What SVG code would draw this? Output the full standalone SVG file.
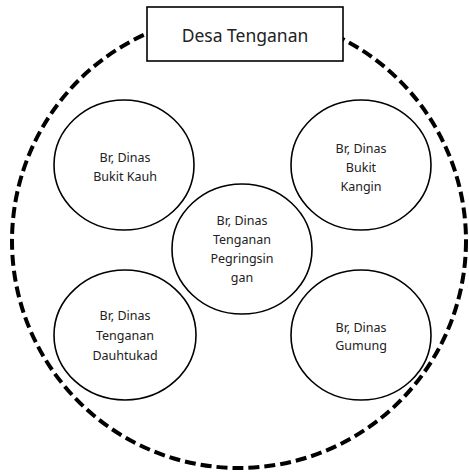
<svg xmlns="http://www.w3.org/2000/svg" width="469" height="472" viewBox="0 0 469 472">
<style>
.node ellipse{fill:#fff;stroke:#000;stroke-width:1.6}
text{font-family:"Noto Sans","Open Sans","Liberation Sans",sans-serif;fill:#222;text-anchor:middle}
.t{font-size:12.5px}
.title{font-size:17.5px}
</style>
<rect width="469" height="472" fill="#fff"/>
<g id="connectors">
<circle cx="239" cy="241" r="227" fill="none" stroke="#000" stroke-width="4" stroke-dasharray="11,5"/>
</g>
<g id="desa" class="node">
<rect x="147" y="7" width="196" height="54" fill="#fff" stroke="#000" stroke-width="1.6"/>
<text class="title" x="245" y="42">Desa Tenganan</text>
</g>
<g id="bukit-kauh" class="node">
<ellipse cx="124" cy="165" rx="70" ry="65"/>
<text class="t" x="125" y="162">Br, Dinas</text>
<text class="t" x="125" y="181">Bukit Kauh</text>
</g>
<g id="bukit-kangin" class="node">
<ellipse cx="361" cy="165" rx="70" ry="65"/>
<text class="t" x="361" y="153">Br, Dinas</text>
<text class="t" x="361" y="172">Bukit</text>
<text class="t" x="361" y="191">Kangin</text>
</g>
<g id="pegringsingan" class="node">
<ellipse cx="242" cy="249" rx="70" ry="65"/>
<text class="t" x="242" y="225">Br, Dinas</text>
<text class="t" x="242" y="244">Tenganan</text>
<text class="t" x="242" y="263">Pegringsin</text>
<text class="t" x="242" y="282">gan</text>
</g>
<g id="dauhtukad" class="node">
<ellipse cx="125" cy="335" rx="71" ry="65"/>
<text class="t" x="125" y="320">Br, Dinas</text>
<text class="t" x="125" y="340">Tenganan</text>
<text class="t" x="125" y="360">Dauhtukad</text>
</g>
<g id="gumung" class="node">
<ellipse cx="361" cy="335" rx="70" ry="65"/>
<text class="t" x="361" y="332">Br, Dinas</text>
<text class="t" x="361" y="350">Gumung</text>
</g>
</svg>
